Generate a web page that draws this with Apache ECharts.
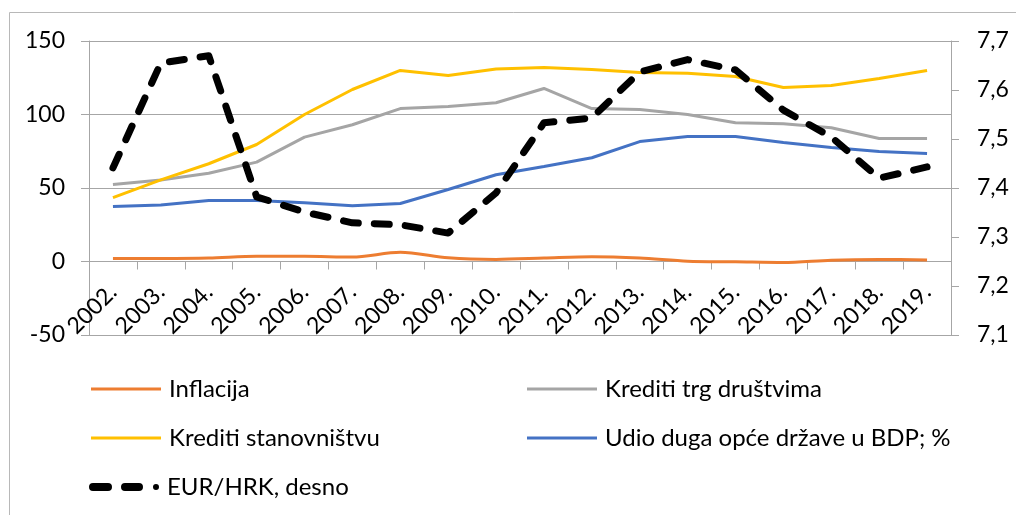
<!DOCTYPE html>
<html>
<head>
<meta charset="utf-8">
<script src="https://cdn.jsdelivr.net/npm/echarts@6/dist/echarts.min.js"></script>
<style>
html,body{margin:0;padding:0;background:#fff;}
#chart{width:1016px;height:515px;}
</style>
</head>
<body>
<div id="chart"></div>
<script>
const years = ['2002.','2003.','2004.','2005.','2006.','2007.','2008.','2009.','2010.','2011.','2012.','2013.','2014.','2015.','2016.','2017.','2018.','2019.'];
const inflacija = [2.0, 2.0, 2.3, 3.6, 3.6, 3.0, 6.3, 2.5, 1.4, 2.3, 3.2, 2.3, 0.2, -0.2, -0.7, 0.9, 1.4, 1.1];
const kreditiTrg = [52.4, 55.5, 60.0, 67.6, 84.6, 93.0, 104.0, 105.5, 108.0, 117.7, 104.0, 103.4, 100.0, 94.4, 93.7, 91.0, 83.7, 83.7];
const kreditiStan = [43.5, 55.5, 66.5, 79.6, 100.0, 117.0, 130.0, 126.5, 131.0, 132.0, 130.6, 128.5, 128.0, 125.8, 118.4, 119.7, 124.5, 130.0];
const udioDuga = [37.4, 38.5, 41.5, 41.5, 40.0, 38.0, 39.5, 49.0, 59.0, 64.6, 70.6, 81.6, 85.0, 85.0, 81.0, 77.5, 74.8, 73.5];
const eurHrk = [7.441, 7.655, 7.670, 7.382, 7.351, 7.329, 7.325, 7.308, 7.390, 7.533, 7.543, 7.637, 7.662, 7.641, 7.559, 7.504, 7.420, 7.443];
const leftTicks = {min: -50, max: 150, interval: 50};
const rightTicks = {min: 7.1, max: 7.7, interval: 0.1};
const names = ['Inflacija', 'Krediti trg društvima', 'Krediti stanovništvu', 'Udio duga opće države u BDP; %', 'EUR/HRK, desno'];

const FONT = 'Lato';
const axisColor = '#a6a6a6';
const dashedIcon = 'path://M4,0 H19 A4,4 0 0 1 19,8 H4 A4,4 0 0 1 4,0 Z M36,0 H50 A4,4 0 0 1 50,8 H36 A4,4 0 0 1 36,0 Z M64,4 A3,3 0 1 1 70,4 A3,3 0 1 1 64,4 Z';

function legendAt(name, left, top, icon, w, h) {
  return {
    data: [name], left: left, top: top, padding: 0,
    icon: icon, itemWidth: w, itemHeight: h, itemGap: 5,
    textStyle: {fontFamily: FONT, fontSize: 24, color: '#000', padding: [0, 0, 0, 3]},
    selectedMode: false
  };
}

const chart = echarts.init(document.getElementById('chart'));
chart.setOption({
  animation: false,
  backgroundColor: '#fff',
  graphic: [{
    type: 'rect', left: 7, top: 10, silent: true,
    shape: {width: 1030, height: 530},
    style: {fill: 'none', stroke: '#b8b8b8', lineWidth: 1}
  }],
  grid: {left: 89, right: 65, top: 41, bottom: 180, containLabel: false, outerBoundsMode: 'none'},
  legend: [
    legendAt(names[0], 91, 377, 'rect', 70, 3),
    legendAt(names[1], 527, 377, 'rect', 70, 3),
    legendAt(names[2], 91, 426, 'rect', 70, 3),
    legendAt(names[3], 527, 426, 'rect', 70, 3),
    legendAt(names[4], 89, 475, dashedIcon, 70, 8)
  ],
  xAxis: {
    type: 'category', data: years, boundaryGap: true, offset: -73.5,
    axisLine: {show: true, onZero: false, lineStyle: {color: axisColor, width: 1}},
    axisTick: {show: true, length: 8, interval: 0, lineStyle: {color: axisColor}},
    axisLabel: {rotate: 45, margin: 27, interval: 0, hideOverlap: false, fontFamily: FONT, fontSize: 23, color: '#000'},
    splitLine: {show: false}
  },
  yAxis: [{
    type: 'value', min: leftTicks.min, max: leftTicks.max, interval: leftTicks.interval,
    axisLine: {show: true, lineStyle: {color: axisColor}},
    axisTick: {show: true, length: 8, inside: false, lineStyle: {color: axisColor}},
    axisLabel: {margin: 24, align: 'right', fontFamily: FONT, fontSize: 23, color: '#000'},
    splitLine: {show: true, lineStyle: {color: axisColor, width: 1}}
  }, {
    type: 'value', position: 'right', min: rightTicks.min, max: rightTicks.max, interval: rightTicks.interval,
    axisLine: {show: true, lineStyle: {color: axisColor}},
    axisTick: {show: true, length: 8, lineStyle: {color: axisColor}},
    axisLabel: {margin: 26, align: 'left', fontFamily: FONT, fontSize: 23, color: '#000',
      formatter: v => v.toFixed(1).replace('.', ',')},
    splitLine: {show: false}
  }],
  series: [
    {name: names[0], type: 'line', data: inflacija, yAxisIndex: 0, symbol: 'none', smooth: 0.3,
     lineStyle: {color: '#ED7D31', width: 3}, itemStyle: {color: '#ED7D31'}},
    {name: names[1], type: 'line', data: kreditiTrg, yAxisIndex: 0, symbol: 'none',
     lineStyle: {color: '#A5A5A5', width: 3}, itemStyle: {color: '#A5A5A5'}},
    {name: names[2], type: 'line', data: kreditiStan, yAxisIndex: 0, symbol: 'none',
     lineStyle: {color: '#FFC000', width: 3}, itemStyle: {color: '#FFC000'}},
    {name: names[3], type: 'line', data: udioDuga, yAxisIndex: 0, symbol: 'none',
     lineStyle: {color: '#4472C4', width: 3}, itemStyle: {color: '#4472C4'}},
    {name: names[4], type: 'line', data: eurHrk, yAxisIndex: 1, symbol: 'none',
     lineStyle: {color: '#000', width: 7, type: [15, 16], cap: 'round', join: 'round'}, itemStyle: {color: '#000'}}
  ]
});
</script>
</body>
</html>
